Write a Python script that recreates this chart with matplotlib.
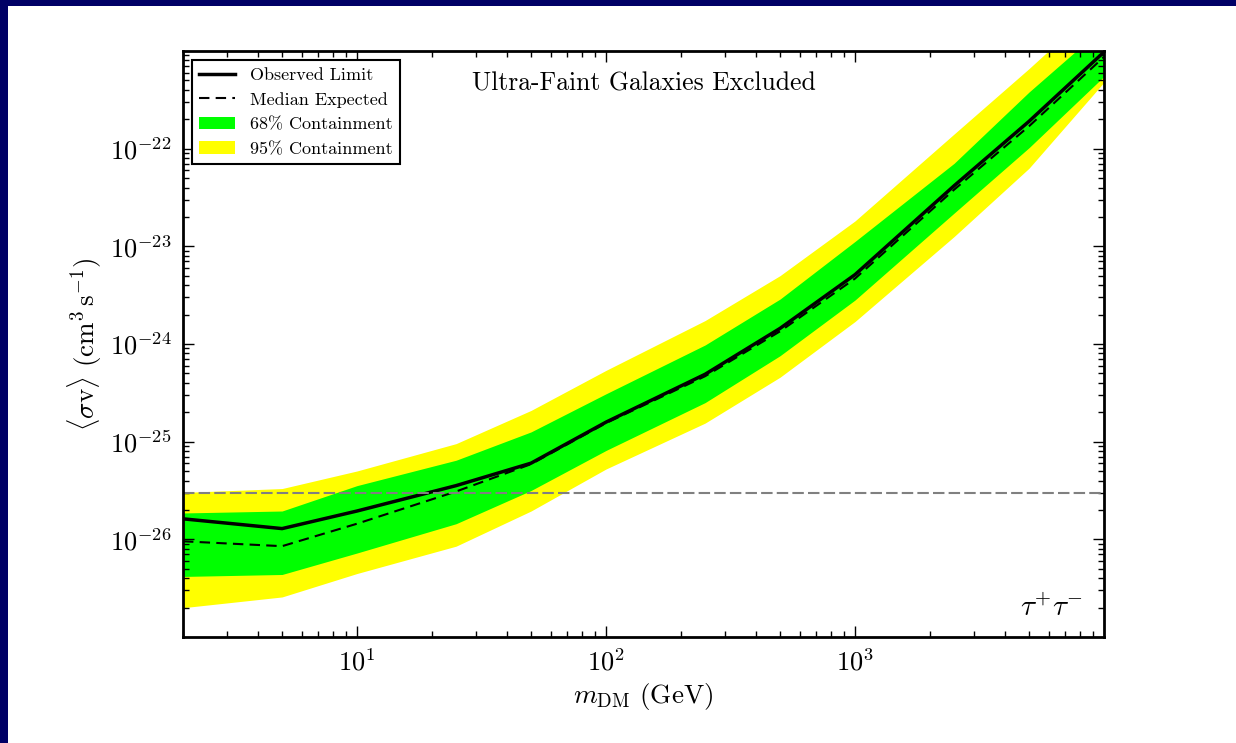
import numpy as np
import matplotlib
matplotlib.use("Agg")
from matplotlib import pyplot as plt
from matplotlib.lines import Line2D
from matplotlib.patches import Patch, Rectangle
from matplotlib.ticker import LogLocator, NullFormatter

# ------------ DATA (log10 of <sigma v>)
mass = [2, 5, 10, 25, 50, 100, 250, 500, 1000, 2500, 5000, 10000]
obs_log = [-25.79, -25.89, -25.71, -25.45, -25.22, -24.80, -24.31, -23.84, -23.29, -22.38, -21.72, -21.01]
med_log = [-26.02, -26.07, -25.84, -25.51, -25.23, -24.81, -24.33, -23.87, -23.33, -22.42, -21.77, -21.06]
g_hi_log = [-25.73, -25.71, -25.45, -25.19, -24.90, -24.51, -24.01, -23.54, -22.95, -22.15, -21.42, -20.75]
g_lo_log = [-26.38, -26.36, -26.14, -25.84, -25.50, -25.09, -24.60, -24.12, -23.55, -22.66, -21.99, -21.26]
y_hi_log = [-25.52, -25.48, -25.30, -25.02, -24.68, -24.27, -23.76, -23.30, -22.74, -21.85, -21.18, -20.48]
y_lo_log = [-26.70, -26.59, -26.35, -26.07, -25.71, -25.28, -24.81, -24.34, -23.77, -22.90, -22.20, -21.32]
thermal_relic = 3e-26

title_text = "Ultra-Faint Galaxies Excluded"
channel_text = r"$\tau^{+}\tau^{-}$"

# ------------ STYLE
plt.rcParams['font.family'] = 'serif'
plt.rcParams['font.serif'] = ['cmr10']
plt.rcParams['mathtext.fontset'] = 'cm'
plt.rcParams['axes.formatter.use_mathtext'] = True
plt.rcParams['axes.unicode_minus'] = False

fig = plt.figure(figsize=(12.36, 7.43), dpi=100)
# slide frame
fig.patches.append(Rectangle((0, 1 - 6 / 743), 1, 6 / 743, transform=fig.transFigure,
                             facecolor='#000066', edgecolor='none', zorder=0))
fig.patches.append(Rectangle((0, 0), 8 / 1236, 1, transform=fig.transFigure,
                             facecolor='#000066', edgecolor='none', zorder=0))

ax = fig.add_axes([183 / 1236, 106 / 743, 921 / 1236, 586 / 743])

m = np.array(mass)
p = lambda v: 10 ** np.array(v)

ax.fill_between(m, p(y_lo_log), p(y_hi_log), color='#ffff00', lw=0)
ax.fill_between(m, p(g_lo_log), p(g_hi_log), color='#00ff00', lw=0)
ax.plot(m, p(obs_log), color='black', lw=2.5)
ax.plot(m, p(med_log), color='black', lw=1.5, ls='--', dashes=(5, 3))
ax.axhline(thermal_relic, color='gray', lw=1.5, ls='--', dashes=(5.5, 2))

ax.set_xscale('log')
ax.set_yscale('log')
ax.set_xlim(2, 1e4)
ax.set_ylim(1e-27, 1e-21)
ax.set_xticks([10, 100, 1000])
ax.set_yticks([1e-26, 1e-25, 1e-24, 1e-23, 1e-22])
ax.yaxis.set_minor_locator(LogLocator(base=10, subs=np.arange(2, 10), numticks=100))
ax.yaxis.set_minor_formatter(NullFormatter())

ax.tick_params(which='both', direction='in', top=True, right=True, labelsize=19)
ax.tick_params(which='major', length=8, width=1, pad=8)
ax.tick_params(which='minor', length=4, width=1)
for s in ax.spines.values():
    s.set_linewidth(2)

ax.set_xlabel(r"$m_{\rm DM}$ (GeV)", fontsize=19.5)
ax.set_ylabel(r"$\langle\sigma{\rm v}\rangle$ $({\rm cm}^{3}\,{\rm s}^{-1})$", fontsize=19.5)

ax.text(0.5, 0.945, title_text, transform=ax.transAxes, ha='center', va='center', fontsize=18.5)
ax.text(0.977, 0.05, channel_text, transform=ax.transAxes, ha='right', va='center', fontsize=21)

handles = [Line2D([], [], color='black', lw=2.5),
           Line2D([], [], color='black', lw=1.5, ls='--', dashes=(5, 3)),
           Patch(facecolor='#00ff00', edgecolor='none'),
           Patch(facecolor='#ffff00', edgecolor='none')]
labels = ["Observed Limit", "Median Expected", "68% Containment", "95% Containment"]
leg = ax.legend(handles, labels, loc='upper left', fontsize=13, fancybox=False,
                framealpha=1, edgecolor='black', borderaxespad=0.5,
                handlelength=2.0, labelspacing=0.5, borderpad=0.4)
leg.get_frame().set_linewidth(1.5)

fig.savefig('out.png', dpi=100)
